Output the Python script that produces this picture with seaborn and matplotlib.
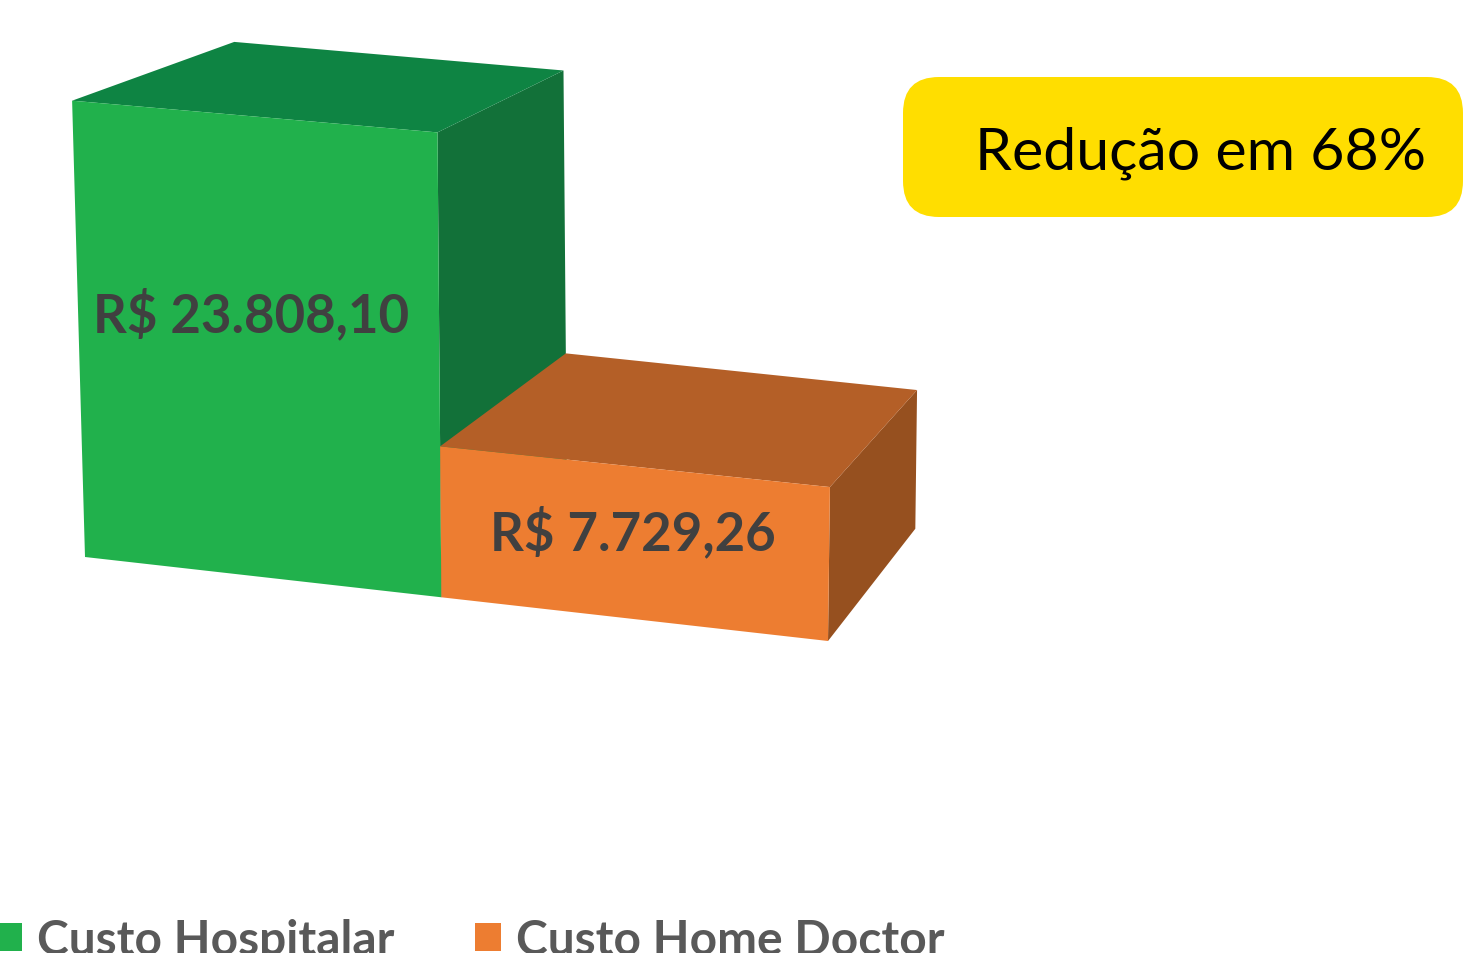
import numpy as np
import matplotlib
matplotlib.use("Agg")
import matplotlib.pyplot as plt
import matplotlib.transforms as mtransforms
from matplotlib.patches import Polygon, FancyBboxPatch
import seaborn as sns

# Dados do gráfico
categorias = ['Custo Hospitalar', 'Custo Home Doctor']
valores = [23808.10, 7729.26]

# Cores (frente, topo, lateral) de cada barra
cores_frente = ['#21B14C', '#ED7D31']
cores_topo = ['#0E8443', '#B45F27']
cores_lado = ['#127139', '#96501F']

W, H = 1465, 954


class PlanoFrontal(mtransforms.Transform):
    """
    Leva coordenadas unitárias do eixo (0..1) para um quadrilátero em pixels,
    imitando a perspectiva do gráfico 3D do Excel
    """
    input_dims = 2
    output_dims = 2

    def __init__(self, quad, gamma=1.0):
        super().__init__()
        self.quad = np.asarray(quad, float)
        self.gamma = gamma

    def transform_non_affine(self, values):
        values = np.asarray(values, float)
        u = np.clip(values[:, :1], 0, None) ** self.gamma
        v = values[:, 1:]
        bl, br, tr, tl = self.quad
        return (1 - u) * (1 - v) * bl + u * (1 - v) * br + u * v * tr + (1 - u) * v * tl


def formata_real(v):
    s = f"{v:,.2f}"
    return "R$ " + s.replace(",", "X").replace(".", ",").replace("X", ".")


sns.set_theme(style='white')
plt.rcParams['font.family'] = ['Lato', 'DejaVu Sans']

fig = plt.figure(figsize=(W / 100, H / 100), dpi=100)
ax = fig.add_axes([0, 0, 1, 1])

sns.barplot(x=categorias, y=valores, hue=categorias, palette=cores_frente,
            saturation=1, width=1, linewidth=0, legend=True, ax=ax)

ax.set_xlim(-0.5, 1.5)
ax.set_ylim(0, 24000)
ax.set_autoscale_on(False)
ax.axis('off')

# plano frontal em perspectiva (pixels, origem embaixo)
plano = PlanoFrontal([(85, 396), (828, 312), (834, 790), (72, 856)], gamma=1.06)
trans = ax.transScale + ax.transLimits + plano

# ponto de fuga e profundidade das caixas
fuga = np.array([1710.0, 1446.0])
prof = 0.099

# só as barras com altura (o seaborn cria barras vazias por nível de hue)
barras = {}
for p in ax.patches:
    h = p.get_height()
    if np.isfinite(h) and h > 0:
        barras[int(round(p.get_x() + p.get_width() / 2))] = p
    else:
        p.set_visible(False)

for i, v in enumerate(valores):
    p = barras[i]
    x0, w, h = p.get_x(), p.get_width(), p.get_height()
    frente = trans.transform([(x0, 0), (x0 + w, 0), (x0 + w, h), (x0, h)])
    fundo = frente + prof * (fuga - frente)
    bl, br, tr, tl = frente
    bbl, bbr, btr, btl = fundo

    lado = Polygon([br, tr, btr, bbr], closed=True, fc=cores_lado[i], ec='none',
                   transform=mtransforms.IdentityTransform(), zorder=3 * i + 1)
    topo = Polygon([tl, tr, btr, btl], closed=True, fc=cores_topo[i], ec='none',
                   transform=mtransforms.IdentityTransform(), zorder=3 * i + 2)
    ax.add_patch(lado)
    ax.add_patch(topo)

    p.set_transform(trans)
    p.set_zorder(3 * i + 3)

    ax.text(x0 + w / 2, h * 0.57, formata_real(v), transform=trans,
            ha='center', va='center', fontsize=38, fontweight='bold',
            color='#404040', zorder=10)

# Legenda embaixo (cortada como no original)
leg = ax.get_legend()
handles = leg.legend_handles
labels = [t.get_text() for t in leg.texts]
leg.remove()
fig.legend(handles, labels, loc='lower left', bbox_to_anchor=(-4 / W, -9 / H),
           ncol=2, frameon=False, borderpad=0, borderaxespad=0,
           prop=dict(family='Lato', weight='bold', size=34.5), labelcolor='#595959',
           handlelength=0.54, handleheight=0.54, handletextpad=0.31, columnspacing=1.69)

# Caixa amarela com a redução
reducao = round((1 - valores[1] / valores[0]) * 100)
caixa = FancyBboxPatch((903, 736), 560, 140, boxstyle='round,pad=0,rounding_size=36',
                       fc='#FFDE00', ec='none', transform=mtransforms.IdentityTransform())
fig.add_artist(caixa)
fig.text(975 / W, 784 / H, f"Redução em {reducao}%", fontsize=42.5, color='black',
         ha='left', va='baseline')

fig.savefig('out.png', dpi=100)
